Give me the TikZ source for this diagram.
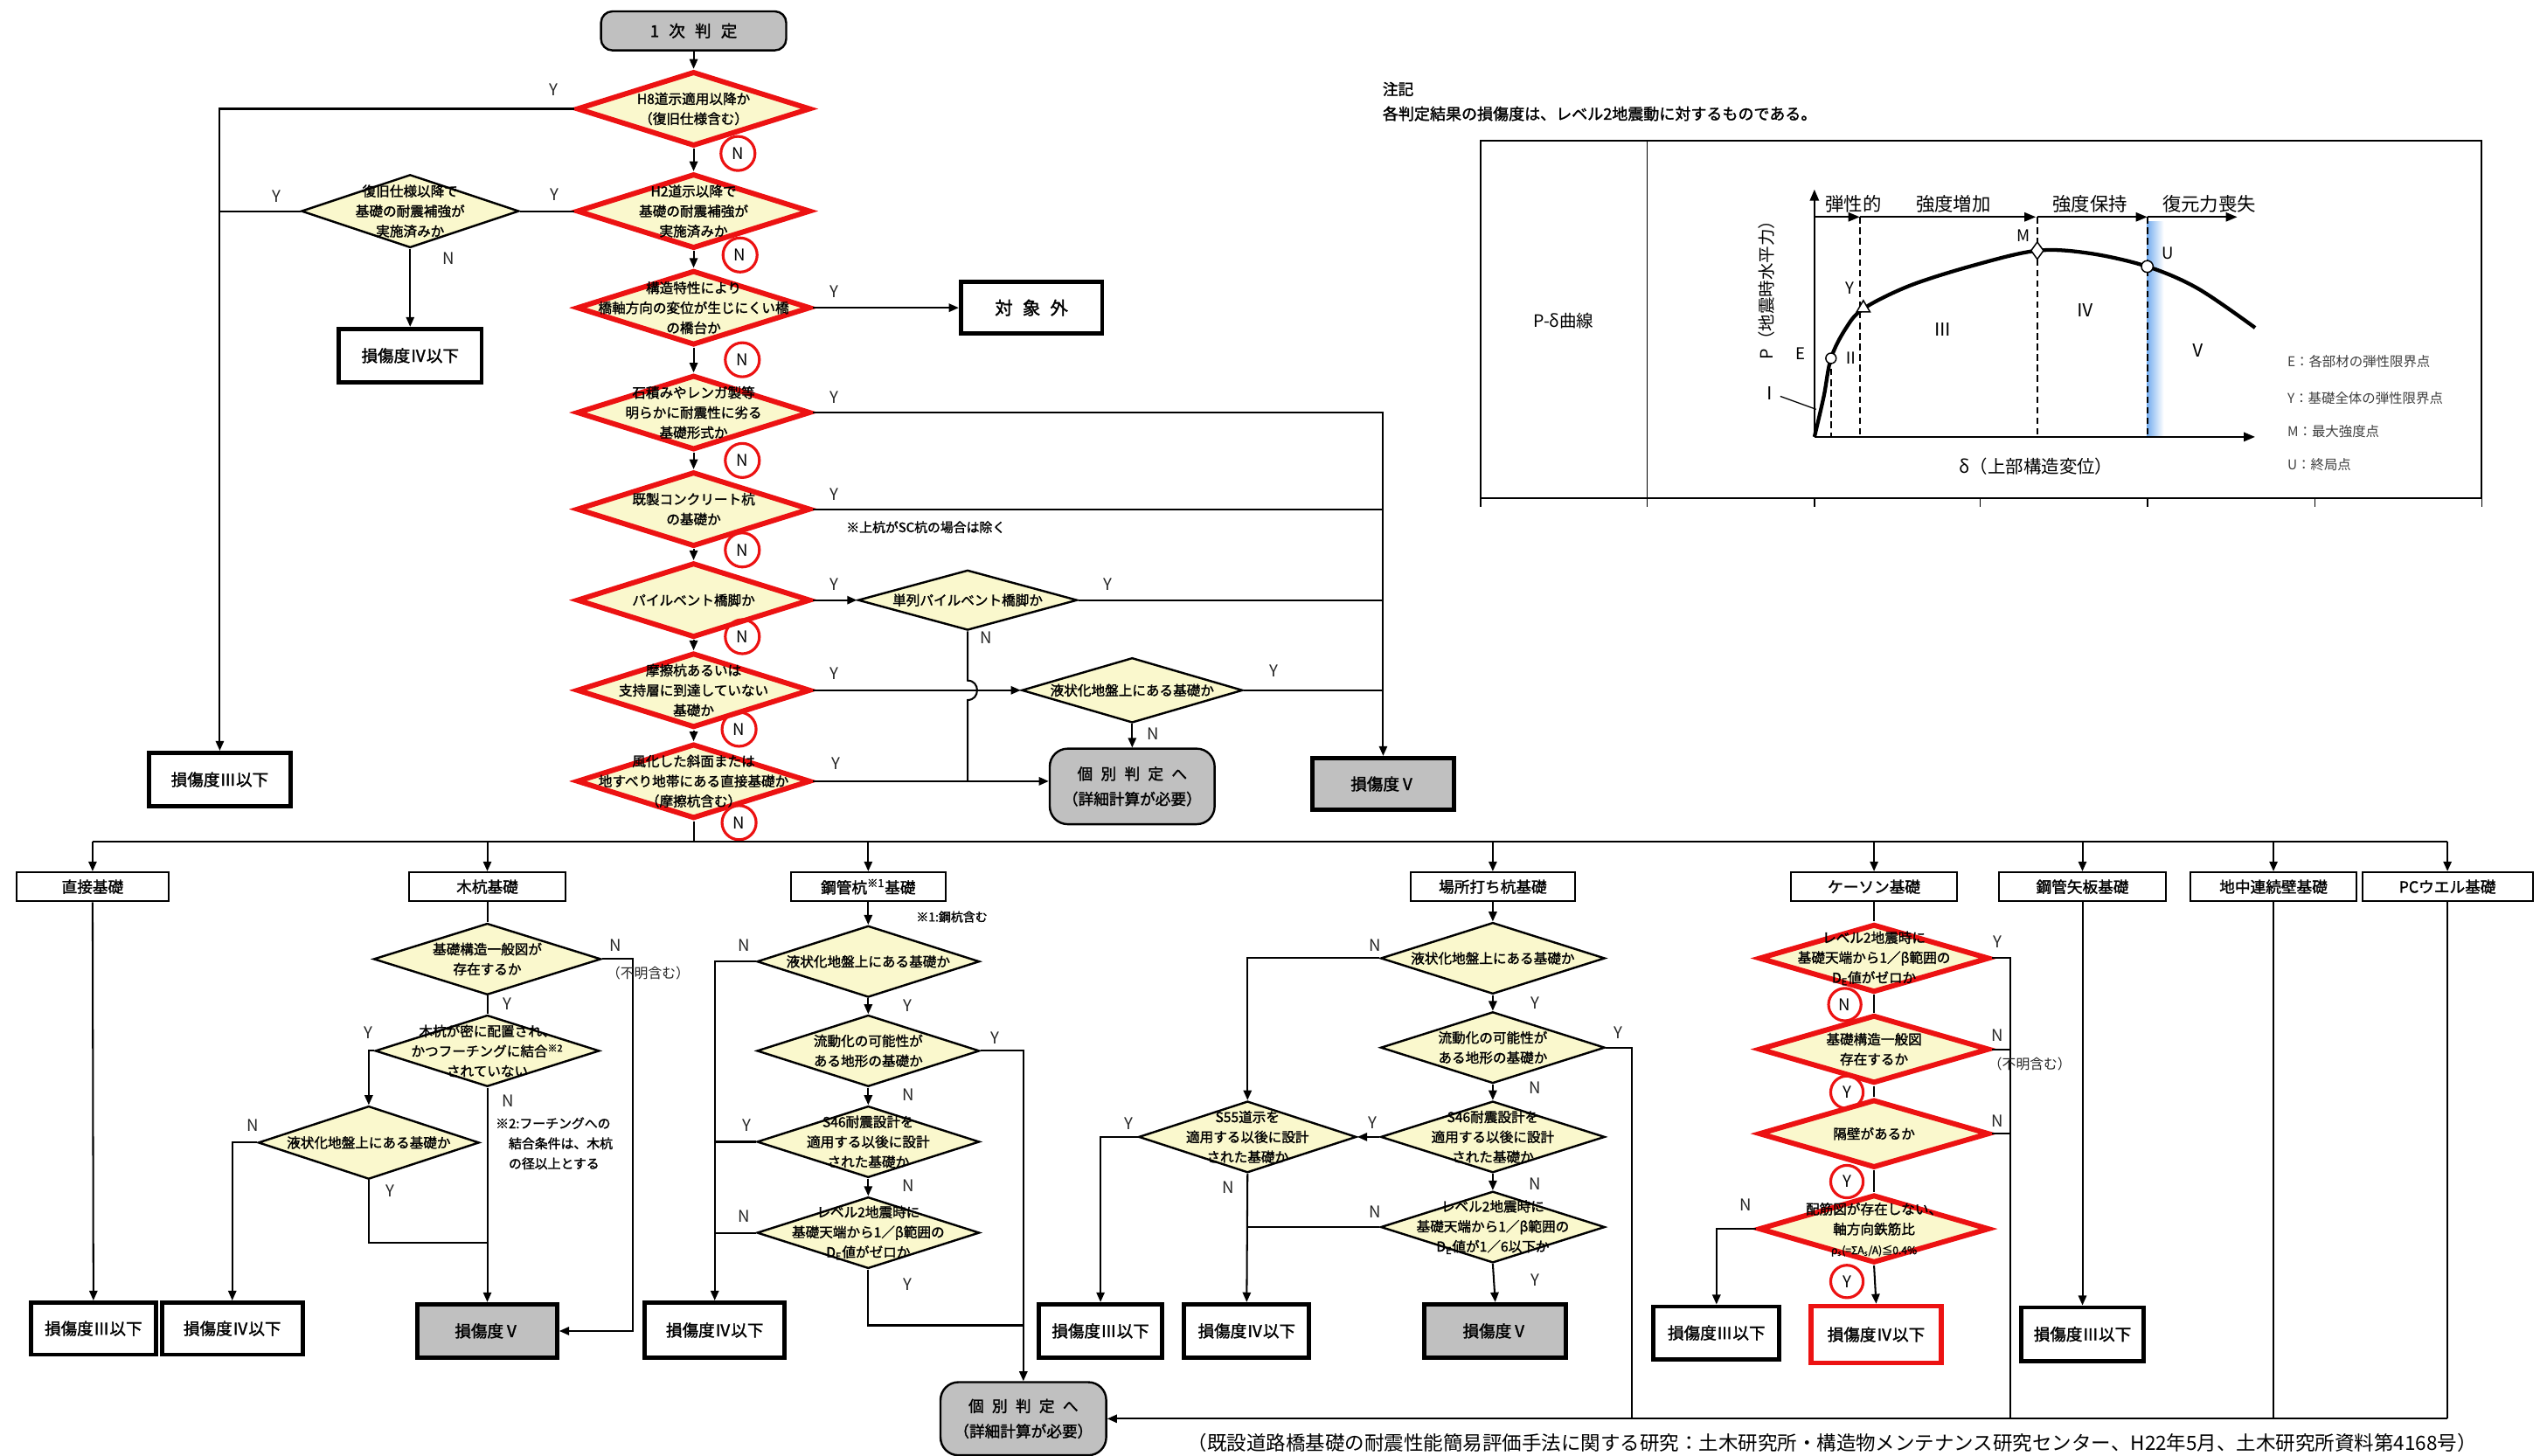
\documentclass[tikz,border=0pt]{standalone}
\usepackage{fontspec}
\newfontfamily\jp{Noto Sans CJK JP}
\newfontfamily\jpb[FakeBold=1.6]{Noto Sans CJK JP}
\usetikzlibrary{shapes.geometric,arrows.meta}
\definecolor{dfill}{RGB}{250,248,205}
\definecolor{gfill}{RGB}{192,192,192}
\definecolor{rred}{RGB}{236,18,18}
\definecolor{lblue}{RGB}{120,175,240}
\newcommand{\fsz}[2]{\fontsize{#1}{#2}\selectfont}
\newcommand{\dnode}[5]{\node[#1] (#2) at (#3,#4) {};\node[dtxt] (#2t) at (#3,#4) {#5};}
\newcommand{\lab}[4]{\node[yn] (#1) at (#2,#3) {#4};}
\begin{document}
\begin{tikzpicture}[x=1pt,y=-1pt,
  ln/.style={line width=1.1pt},
  arr/.style={line width=1.1pt,-{Triangle[length=6pt,width=5pt]}},
  rdia/.style={diamond,draw=rred,line width=3.2pt,fill=dfill,inner sep=0pt,minimum width=144pt,minimum height=46pt},
  bdia/.style={diamond,draw=black,line width=1.3pt,fill=dfill,inner sep=0pt,minimum width=138pt,minimum height=44pt},
  dtxt/.style={align=center,inner sep=0pt,font=\jpb\fsz{8.4}{12.3}},
  catbox/.style={draw=black,line width=1.1pt,fill=white,inner sep=0pt,minimum height=18pt,font=\jpb\fsz{9.5}{11}},
  resbox/.style={draw=black,line width=2.6pt,fill=white,inner sep=0pt,minimum height=32pt,font=\jpb\fsz{10}{12}},
  gresbox/.style={resbox,fill=gfill},
  rresbox/.style={resbox,draw=rred,line width=3pt},
  kbox/.style={draw=black,line width=1.3pt,fill=gfill,rounded corners=11pt,inner sep=0pt,minimum width=102pt,minimum height=46pt,align=center,font=\jpb\fsz{9.5}{15.5}},
  yn/.style={inner sep=0pt,text=black!85,font=\jp\fsz{10}{12}},
  ncirc/.style={circle,draw=rred,line width=1.7pt,minimum size=21pt,inner sep=0pt,font=\jp\fsz{10}{12}},
  note/.style={inner sep=0pt,font=\jpb\fsz{8}{12.3}},
  gtxt/.style={inner sep=0pt,font=\jp\fsz{11.5}{13}},
  legt/.style={inner sep=0pt,anchor=west,text=black!75,font=\jp\fsz{8.3}{10}},
  gtip/.style={-{Triangle[length=7pt,width=5.5pt]}},
]
\useasboundingbox (0,0) rectangle (1568,896);
\fill[white] (0,0) rectangle (1568,896);

% ---------------- main column ----------------
\node[kbox,minimum width=114pt,minimum height=24pt,rounded corners=7pt,font=\jpb\fsz{10}{12}] (top) at (427,19) {1\hspace{6pt}次\hspace{6pt}判\hspace{6pt}定};
\dnode{rdia}{d1}{427}{67}{H8道示適用以降か\\（復旧仕様含む）}
\dnode{rdia}{d2}{427}{130}{H2道示以降で\\基礎の耐震補強が\\実施済みか}
\dnode{rdia}{d3}{427}{189.5}{構造特性により\\橋軸方向の変位が生じにくい橋\\の橋台か}
\dnode{rdia}{d4}{427}{254}{石積みやレンガ製等\\明らかに耐震性に劣る\\基礎形式か}
\dnode{rdia}{d5}{427}{313.5}{既製コンクリート杭\\の基礎か}
\dnode{rdia}{d6}{427}{369.5}{パイルベント橋脚か}
\dnode{rdia}{d7}{427}{425}{摩擦杭あるいは\\支持層に到達していない\\基礎か}
\dnode{rdia}{d8}{427}{481}{風化した斜面または\\地すべり地帯にある直接基礎か\\（摩擦杭含む）}

\dnode{bdia,minimum width=134pt,minimum height=45pt}{dl}{252.5}{130}{復旧仕様以降で\\基礎の耐震補強が\\実施済みか}
\dnode{bdia,minimum width=135pt,minimum height=37pt}{ds}{595.7}{369.5}{単列パイルベント橋脚か}
\dnode{bdia,minimum width=136pt,minimum height=40pt}{dq}{697}{425}{液状化地盤上にある基礎か}

\node[resbox,minimum width=87pt,font=\jpb\fsz{11}{12}] (out) at (635,189.5) {対\hspace{6pt}象\hspace{6pt}外};
\node[resbox,minimum width=87.5pt,minimum height=33pt] (r3a) at (135.3,480) {損傷度Ⅲ以下};
\node[resbox,minimum width=88pt,minimum height=33pt] (r4a) at (252.5,219) {損傷度Ⅳ以下};
\node[gresbox,minimum width=87pt] (r5a) at (851.5,482.7) {損傷度Ⅴ};
\node[kbox,minimum width=101.5pt,minimum height=46.5pt] (kb1) at (697,484.2) {個\hspace{5pt}別\hspace{5pt}判\hspace{5pt}定\hspace{5pt}へ\\（詳細計算が必要）};

\node[ncirc] (n1) at (454.3,94.5) {N};
\node[ncirc] (n2) at (455.6,157) {N};
\node[ncirc] (n3) at (457,221.5) {N};
\node[ncirc] (n4) at (457,283.5) {N};
\node[ncirc] (n5) at (457,338.6) {N};
\node[ncirc] (n6) at (457,392) {N};
\node[ncirc] (n7) at (455,449) {N};
\node[ncirc] (n8) at (455,506.5) {N};

\lab{y1}{341}{55}{Y}
\lab{y2}{341.4}{120}{Y}
\lab{y3}{513.5}{179.3}{Y}
\lab{y4}{513.5}{244.8}{Y}
\lab{y5}{513.5}{304.6}{Y}
\lab{y6}{513.5}{359.6}{Y}
\lab{y7}{513.5}{414.5}{Y}
\lab{y8}{514.5}{470}{Y}
\lab{ydl}{170}{121}{Y}
\lab{ndl}{276}{159}{N}
\lab{yds}{682}{359.6}{Y}
\lab{nds}{607}{392.5}{N}
\lab{ydq}{784}{413}{Y}
\lab{ndq}{710}{452}{N}
\node[note] (sc) at (570,324.6) {※上杭がSC杭の場合は除く};

\draw[arr] (top.south) -- (d1.north);
\draw[arr] (d1.south) -- (d2.north);
\draw[arr] (d2.south) -- (d3.north);
\draw[arr] (d3.south) -- (d4.north);
\draw[arr] (d4.south) -- (d5.north);
\draw[arr] (d5.south) -- (d6.north);
\draw[arr] (d6.south) -- (d7.north);
\draw[arr] (d7.south) -- (d8.north);

\coordinate (jL) at (135.3,130);
\draw[arr] (d1.west) -| (r3a.north);
\draw[ln] (d2.west) -- (dl.east);
\draw[ln] (dl.west) -- (jL);
\draw[arr] (dl.south) -- (r4a.north);
\draw[arr] (d3.east) -- (out.west);
\draw[arr] (d4.east) -| (r5a.north);
\coordinate (j5) at (851.5,313.5);
\coordinate (j6) at (851.5,369.5);
\coordinate (j7) at (851.5,425);
\draw[ln] (d5.east) -- (j5);
\draw[arr] (d6.east) -- (ds.west);
\draw[ln] (ds.east) -- (j6);
\draw[arr] (d7.east) -- (dq.west);
\draw[ln] (dq.east) -- (j7);
\draw[arr] (dq.south) -- (kb1.north);
\draw[arr] (d8.east) -- (d8.east -| kb1.west);
\coordinate (j8) at (595.7,481);
\draw[ln] (ds.south) -- (595.7,419) .. controls (603.5,419) and (603.5,431) .. (595.7,431) -- (j8);

% ---------------- distribution bar ----------------
\coordinate (trunk) at (427,518);
\coordinate (barL) at (57,518);
\coordinate (barR) at (1506.7,518);
\draw[ln] (d8.south) -- (trunk);
\draw[ln] (barL) -- (barR);

\node[catbox,minimum width=94pt] (c1) at (57,546) {直接基礎};
\node[catbox,minimum width=96pt] (c2) at (300,546) {木杭基礎};
\node[catbox,minimum width=95pt] (c3) at (534.5,546) {鋼管杭\textsuperscript{※1}基礎};
\node[catbox,minimum width=101pt] (c4) at (919,546) {場所打ち杭基礎};
\node[catbox,minimum width=102.5pt] (c5) at (1153.7,546) {ケーソン基礎};
\node[catbox,minimum width=103pt] (c6) at (1282,546) {鋼管矢板基礎};
\node[catbox,minimum width=102pt] (c7) at (1399.6,546) {地中連続壁基礎};
\node[catbox,minimum width=105pt] (c8) at (1506.7,546) {PCウエル基礎};
\foreach \c in {c1,c2,c3,c4,c5,c6,c7,c8} \draw[arr] (\c.north |- barL) -- (\c.north);

% ---------------- result boxes bottom ----------------
\node[resbox,minimum width=77pt] (r3b) at (57.5,818) {損傷度Ⅲ以下};
\node[resbox,minimum width=86.5pt] (r4b) at (143,818) {損傷度Ⅳ以下};
\node[gresbox,minimum width=86pt,minimum height=33pt] (r5b) at (300,819.5) {損傷度Ⅴ};
\node[resbox,minimum width=86pt,minimum height=34pt] (r4c) at (440,819) {損傷度Ⅳ以下};
\node[resbox,minimum width=76pt,minimum height=33pt] (r3c) at (677.5,819.5) {損傷度Ⅲ以下};
\node[resbox,minimum width=77pt,minimum height=33pt] (r4d) at (767.5,819.5) {損傷度Ⅳ以下};
\node[gresbox,minimum width=87pt,minimum height=33pt] (r5c) at (920.5,819.5) {損傷度Ⅴ};
\node[resbox,minimum width=77.5pt,minimum height=32.5pt] (r3d) at (1056.7,820.7) {損傷度Ⅲ以下};
\node[rresbox,minimum width=80pt,minimum height=35pt] (r4e) at (1155,821.7) {損傷度Ⅳ以下};
\node[resbox,minimum width=75.5pt,minimum height=33pt] (r3e) at (1282,821.5) {損傷度Ⅲ以下};
\node[kbox,minimum width=102pt,minimum height=45pt] (kb2) at (630,873.5) {個\hspace{5pt}別\hspace{5pt}判\hspace{5pt}定\hspace{5pt}へ\\（詳細計算が必要）};

% ---------------- 直接基礎 ----------------
\draw[arr] (c1.south) -- (r3b.north);

% ---------------- 木杭基礎 ----------------
\dnode{bdia,minimum width=140pt}{w1}{300}{590.5}{基礎構造一般図が\\存在するか}
\dnode{bdia}{w2}{300}{647}{木杭が密に配置され、\\かつフーチングに結合\textsuperscript{※2}\\されていない}
\dnode{bdia,minimum width=136pt,minimum height=45pt}{w3}{227}{703.5}{液状化地盤上にある基礎か}
\draw[ln] (c2.south) -- (w1.north);
\draw[arr] (w1.east) -- ++(19,0) |- (r5b.east);
\draw[ln] (w1.south) -- (w2.north);
\draw[arr] (w2.west) -| (w3.north);
\draw[arr] (w2.south) -- (r5b.north);
\draw[arr] (w3.west) -| (r4b.north);
\coordinate (jw) at (300,765);
\draw[ln] (w3.south) |- (jw);
\lab{nw1}{379}{582}{N}
\node[yn,font=\jp\fsz{8.5}{10}] (fw1) at (399,599) {（不明含む）};
\lab{yw1}{312.5}{618}{Y}
\lab{yw2}{226.7}{636}{Y}
\lab{nw2}{312.5}{677.6}{N}
\lab{nw3}{155.5}{693}{N}
\lab{yw3}{240}{733}{Y}
\node[note,anchor=west] (nt2a) at (305,691.6) {※2:フーチングへの};
\node[note,anchor=west] (nt2b) at (313,704) {結合条件は、木杭};
\node[note,anchor=west] (nt2c) at (313,716.4) {の径以上とする};

% ---------------- 鋼管杭基礎 ----------------
\node[note,font=\jpb\fsz{7.5}{9}] (nt1) at (586,564.5) {※1:鋼杭含む};
\dnode{bdia,minimum width=137pt}{p1}{534.5}{592}{液状化地盤上にある基礎か}
\dnode{bdia,minimum width=137pt}{p2}{534.5}{647}{流動化の可能性が\\ある地形の基礎か}
\dnode{bdia,minimum width=137pt}{p3}{534.5}{703}{S46耐震設計を\\適用する以後に設計\\された基礎か}
\dnode{bdia,minimum width=137pt}{p4}{534.5}{759}{レベル2地震時に\\基礎天端から1／β範囲の\\D\textsubscript{E}値がゼロか}
\draw[arr] (c3.south) -- (p1.north);
\draw[arr] (p1.south) -- (p2.north);
\draw[arr] (p2.south) -- (p3.north);
\draw[arr] (p3.south) -- (p4.north);
\draw[arr] (p1.west) -| (r4c.north);
\coordinate (jp3) at (440,703);
\coordinate (jp4) at (440,759);
\draw[ln] (p3.west) -- (jp3);
\draw[ln] (p4.west) -- (jp4);
\draw[arr] (p2.east) -| (kb2.north);
\coordinate (jp5) at (630,816);
\draw[ln] (p4.south) |- (jp5);
\lab{np1}{458}{582}{N}
\lab{yp1}{559}{619}{Y}
\lab{yp2}{612.5}{639}{Y}
\lab{np2}{559}{674}{N}
\lab{yp3}{460}{693}{Y}
\lab{np3}{559}{730}{N}
\lab{np4}{458}{749}{N}
\lab{yp4}{559}{791}{Y}

% ---------------- 場所打ち杭基礎 ----------------
\dnode{bdia}{q1}{919}{590}{液状化地盤上にある基礎か}
\dnode{bdia}{q2}{919}{645}{流動化の可能性が\\ある地形の基礎か}
\dnode{bdia}{q3}{919}{700}{S46耐震設計を\\適用する以後に設計\\された基礎か}
\dnode{bdia}{q4}{919}{755.5}{レベル2地震時に\\基礎天端から1／β範囲の\\D\textsubscript{E}値が1／6以下か}
\dnode{bdia,minimum width=134pt}{q5}{768}{700}{S55道示を\\適用する以後に設計\\された基礎か}
\draw[arr] (c4.south) -- (q1.north);
\draw[arr] (q1.south) -- (q2.north);
\draw[arr] (q2.south) -- (q3.north);
\draw[arr] (q3.south) -- (q4.north);
\draw[arr] (q4.south) -- (r5c.north);
\draw[arr] (q1.west) -| (q5.north);
\draw[arr] (q3.west) -- (q5.east);
\draw[arr] (q5.west) -| (r3c.north);
\draw[arr] (q5.south) -- (r4d.north);
\coordinate (jq4) at (768,755.5);
\draw[ln] (q4.west) -- (jq4);
\coordinate (jq2) at (1004.6,873.5);
\draw[ln] (q2.east) -| (jq2);
\lab{nq1}{846.5}{582}{N}
\lab{yq1}{945}{617.6}{Y}
\lab{yq2}{996}{636}{Y}
\lab{nq2}{945}{670}{N}
\lab{yq3}{845}{691.5}{Y}
\lab{nq3}{945}{729}{N}
\lab{yq5}{695}{692}{Y}
\lab{nq5}{756}{731}{N}
\lab{nq4}{846.5}{746}{N}
\lab{yq4}{945}{788}{Y}

% ---------------- ケーソン基礎 ----------------
\dnode{rdia,minimum width=142pt,minimum height=42pt}{k1}{1153.7}{590}{レベル2地震時に\\基礎天端から1／β範囲の\\D\textsubscript{E}値がゼロか}
\dnode{rdia,minimum width=142pt,minimum height=42pt}{k2}{1153.7}{646}{基礎構造一般図\\存在するか}
\dnode{rdia,minimum width=142pt,minimum height=42pt}{k3}{1153.7}{698}{隔壁があるか}
\node[rdia,minimum width=142pt,minimum height=42pt] (k4) at (1153.7,756.6) {};
\node[dtxt] (k4t) at (1153.7,757) {配筋図が存在しない、\\軸方向鉄筋比\\{\fsz{6.5}{8}ρ\textsubscript{s}(=ΣA\textsubscript{s}/A)≦0.4\%}};
\draw[ln] (c5.south) -- (k1.north);
\draw[ln] (k1.south) -- (k2.north);
\draw[ln] (k2.south) -- (k3.north);
\draw[ln] (k3.south) -- (k4.north);
\draw[arr] (k4.south) -- (r4e.north);
\draw[arr] (k4.west) -| (r3d.north);
\coordinate (jk1) at (1237.7,873.5);
\coordinate (jk2) at (1237.7,646);
\coordinate (jk3) at (1237.7,698);
\draw[ln] (k1.east) -| (jk1);
\draw[ln] (k2.east) -- (jk2);
\draw[ln] (k3.east) -- (jk3);
\node[ncirc,minimum size=20pt] (kn1) at (1135.7,618.5) {N};
\node[ncirc,minimum size=20pt] (ky2) at (1137,672.5) {Y};
\node[ncirc,minimum size=20pt] (ky3) at (1137,727.5) {Y};
\node[ncirc,minimum size=20pt] (ky4) at (1137,789) {Y};
\lab{yk1}{1229.6}{580}{Y}
\lab{nk2}{1229.6}{637.6}{N}
\node[yn,font=\jp\fsz{8.5}{10}] (fk2) at (1249.6,655) {（不明含む）};
\lab{nk3}{1229.6}{690}{N}
\lab{nk4}{1074.6}{742}{N}

% ---------------- right columns ----------------
\draw[arr] (c6.south) -- (r3e.north);
\coordinate (jc7) at (1399.6,873.5);
\coordinate (jc8) at (1506.7,873.5);
\draw[ln] (c7.south) -- (jc7);
\draw[ln] (c8.south) -- (jc8);
\draw[arr] (jc8) -- (kb2.east);

% ---------------- caption ----------------
\node[inner sep=0pt,font=\jp\fsz{12.1}{14}] (cap) at (1128,888.5) {（既設道路橋基礎の耐震性能簡易評価手法に関する研究：土木研究所・構造物メンテナンス研究センター、H22年5月、土木研究所資料第4168号）};

% ---------------- note and P-delta table ----------------
\node[inner sep=0pt,anchor=west,font=\jpb\fsz{9.5}{11}] (nh) at (851,54.8) {注記};
\node[inner sep=0pt,anchor=west,font=\jpb\fsz{9.7}{11}] (nb) at (851,70) {各判定結果の損傷度は、レベル2地震動に対するものである。};
\draw[line width=1pt] (911.6,86.5) rectangle (1527.8,306.7);
\draw[line width=0.8pt] (1014,86.5) -- (1014,306.7);
\foreach \x in {911.6,1014,1117,1219,1322,1425,1527.8} \draw[line width=0.8pt] (\x,306.7) -- (\x,312);
\node[inner sep=0pt,font=\jp\fsz{10.5}{12}] (pdl) at (962.6,197.4) {P-δ曲線};

\shade[left color=lblue,right color=white] (1321.9,136.3) rectangle (1332,269);
\draw[line width=1.3pt,gtip] (1117,269) -- (1388.3,269);
\draw[line width=1.3pt,gtip] (1117,269) -- (1117,116.6);
\draw[line width=1.1pt,gtip] (1117,133.6) -- (1144.9,133.6);
\draw[line width=1.1pt,gtip] (1144.9,133.6) -- (1253.3,133.6);
\draw[line width=1.1pt,gtip] (1254.2,133.6) -- (1321.9,133.6);
\draw[line width=1.1pt,gtip] (1321.9,133.6) -- (1377.3,133.6);
\draw[line width=0.9pt,dash pattern=on 4pt off 2.5pt] (1127.2,220.6) -- (1127.2,269);
\draw[line width=0.9pt,dash pattern=on 4pt off 2.5pt] (1144.9,133.6) -- (1144.9,269);
\draw[line width=0.9pt,dash pattern=on 4pt off 2.5pt] (1254.2,133.6) -- (1254.2,269);
\draw[line width=0.9pt,dash pattern=on 4pt off 2.5pt] (1321.9,133.6) -- (1321.9,269);
\draw[line width=2.3pt] plot[smooth,tension=0.55] coordinates {(1117,269) (1122.8,243.9) (1127.2,220.6) (1136,202.7) (1147.1,190.1) (1175.9,175.8) (1215.7,163.2) (1254.2,154.3) (1286.6,156) (1321.9,164.1) (1353,177.6) (1388.3,201.8)};
\draw[line width=0.8pt,fill=white] (1127.2,220.6) circle (3.2);
\draw[line width=0.8pt,fill=white] (1147.1,185) -- (1151.2,192) -- (1143,192) -- cycle;
\draw[line width=0.8pt,fill=white] (1254.2,149) -- (1258,154.3) -- (1254.2,159.6) -- (1250.4,154.3) -- cycle;
\draw[line width=0.8pt,fill=white] (1321.9,164.1) circle (3.6);
\draw[line width=0.7pt] (1096,244) -- (1118,252);

\node[gtxt] (g1) at (1141,125.6) {弾性的};
\node[gtxt] (g2) at (1202.6,125.6) {強度増加};
\node[gtxt] (g3) at (1286.6,125.6) {強度保持};
\node[gtxt] (g4) at (1360,125.6) {復元力喪失};
\node[gtxt,font=\jp\fsz{10.5}{12},rotate=90] (gy) at (1087.4,176) {P（地震時水平力）};
\node[gtxt,font=\jp\fsz{11}{12}] (gx) at (1253.5,287) {δ（上部構造変位）};
\node[gtxt,font=\jp\fsz{10}{12}] (lE) at (1108.5,218) {E};
\node[gtxt,font=\jp\fsz{10}{12}] (lII) at (1139.5,220.6) {Ⅱ};
\node[gtxt,font=\jp\fsz{10}{12}] (lY) at (1138.7,177.6) {Y};
\node[gtxt,font=\jp\fsz{10}{12}] (lM) at (1245.7,145) {M};
\node[gtxt,font=\jp\fsz{10}{12}] (lU) at (1334.5,156) {U};
\node[gtxt,font=\jp\fsz{11}{12}] (lI) at (1089.6,242) {Ⅰ};
\node[gtxt,font=\jp\fsz{11}{12}] (lIII) at (1195.8,202.7) {Ⅲ};
\node[gtxt,font=\jp\fsz{11}{12}] (lIV) at (1283.5,191) {Ⅳ};
\node[gtxt,font=\jp\fsz{11}{12}] (lV) at (1353,216) {Ⅴ};
\node[legt] (le1) at (1408,222.4) {E：各部材の弾性限界点};
\node[legt] (le2) at (1408,245) {Y：基礎全体の弾性限界点};
\node[legt] (le3) at (1408,265.5) {M：最大強度点};
\node[legt] (le4) at (1408,286) {U：終局点};
\end{tikzpicture}
\end{document}
